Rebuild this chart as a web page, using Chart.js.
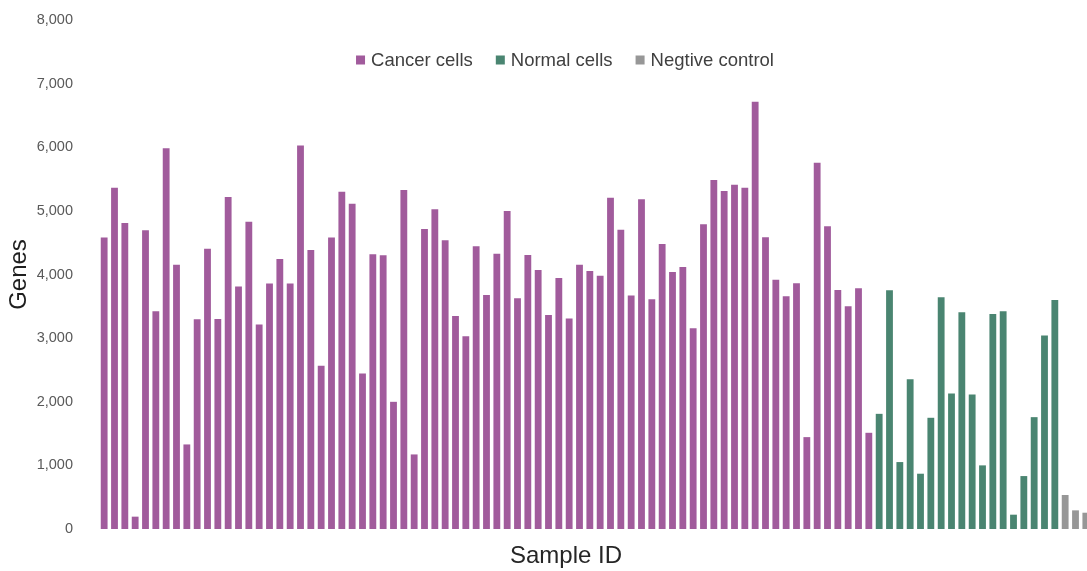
<!DOCTYPE html>
<html>
<head>
<meta charset="utf-8">
<title>Genes per sample</title>
<script src="https://cdn.jsdelivr.net/npm/chart.js@4/dist/chart.umd.min.js"></script>
<style>
  html, body { margin: 0; padding: 0; background: #ffffff; overflow: hidden; }
  #wrap { position: relative; width: 1095px; height: 571px; }
</style>
</head>
<body>
<div id="wrap"><canvas id="chart"></canvas></div>
<script>
// Genes detected per sample, grouped by sample type
const cancerCells = [
  4580, 5365, 4810, 194, 4694, 3422, 5986, 4155, 1329, 3297,
  4406, 3302, 5217, 3810, 4830, 3213, 3857, 4244, 3857, 6028,
  4385, 2564, 4580, 5301, 5113, 2444, 4317, 4301, 1999, 5327,
  1172, 4715, 5024, 4537, 3349, 3030, 4443, 3679, 4328, 4997,
  3626, 4307, 4071, 3365, 3945, 3307, 4155, 4055, 3982, 5207,
  4704, 3668, 5181, 3611, 4479, 4040, 4118, 3155, 4788, 5484,
  5311, 5411, 5364, 6714, 4584, 3919, 3658, 3862, 1444, 5756,
  4757, 3757, 3501, 3783, 1512
];
const normalCells = [
  1810, 3752, 1052, 2355, 869, 1748, 3642, 2130, 3407, 2114,
  1000, 3380, 3422, 225, 832, 1758, 3040, 3600
];
const negativeControl = [534, 293, 256];

const seriesNames = ['Cancer cells', 'Normal cells', 'Negtive control'];
const seriesColors = ['#a15b9c', '#4a8571', '#979797'];
const yTicks = [0, 1000, 2000, 3000, 4000, 5000, 6000, 7000, 8000];
const xTitle = 'Sample ID';

const total = cancerCells.length + normalCells.length + negativeControl.length;
const sampleIds = Array.from({ length: total }, (_, i) => 'S' + (i + 1));

// Each series occupies its own run of samples; the rest are empty
function place(values, start) {
  const out = new Array(total).fill(null);
  values.forEach((v, i) => { out[start + i] = v; });
  return out;
}

const groups = [cancerCells, normalCells, negativeControl];
let offset = 0;
const datasets = groups.map((values, k) => {
  const ds = {
    label: seriesNames[k],
    data: place(values, offset),
    backgroundColor: seriesColors[k],
    borderWidth: 0,
    grouped: false,
    barPercentage: 0.66,
    categoryPercentage: 1.0
  };
  offset += values.length;
  return ds;
});

// Legend drawn inside the plot near the top, plus the sample axis caption
const overlayText = {
  id: 'overlayText',
  afterDraw(chart, args, opts) {
    const ctx = chart.ctx;
    ctx.save();
    ctx.textBaseline = 'middle';

    ctx.font = opts.legendFont;
    const box = opts.boxSize, gapText = opts.gapText, gapItem = opts.gapItem;
    const items = chart.data.datasets.map(d => ({
      text: d.label, color: d.backgroundColor, w: ctx.measureText(d.label).width
    }));
    const width = items.reduce((s, it) => s + box + gapText + it.w, 0) + gapItem * (items.length - 1);
    let x = opts.legendX - width / 2;
    const y = opts.legendY;
    items.forEach(it => {
      ctx.fillStyle = it.color;
      ctx.fillRect(x, y - box / 2, box, box);
      ctx.fillStyle = opts.legendColor;
      ctx.fillText(it.text, x + box + gapText, y + 0.5);
      x += box + gapText + it.w + gapItem;
    });

    ctx.font = opts.captionFont;
    ctx.fillStyle = opts.captionColor;
    ctx.textAlign = 'center';
    ctx.fillText(opts.caption, opts.captionX, opts.captionY);
    ctx.restore();
  }
};

new Chart(document.getElementById('chart'), {
  type: 'bar',
  data: { labels: sampleIds, datasets },
  plugins: [overlayText],
  options: {
    responsive: true,
    maintainAspectRatio: false,
    animation: false,
    layout: { padding: { left: 2, right: 4, top: 20, bottom: 42 } },
    plugins: {
      legend: { display: false },
      tooltip: { enabled: false },
      overlayText: {
        legendFont: '18.5px "Liberation Sans", Arial, sans-serif',
        legendColor: '#404040',
        boxSize: 9,
        gapText: 6,
        gapItem: 23,
        legendX: 565,
        legendY: 60,
        caption: xTitle,
        captionFont: '24px "Liberation Sans", Arial, sans-serif',
        captionColor: '#262626',
        captionX: 566,
        captionY: 556
      }
    },
    scales: {
      x: {
        grid: { display: false, drawTicks: false },
        border: { display: false },
        ticks: { display: false }
      },
      y: {
        min: 0,
        max: 8000,
        afterBuildTicks(scale) { scale.ticks = yTicks.map(v => ({ value: v })); },
        afterFit(scale) { scale.width = 97; },
        grid: { display: false, drawTicks: true, tickLength: 23 },
        border: { display: false },
        ticks: {
          padding: 3,
          color: '#595959',
          font: { family: '"Liberation Sans", Arial, sans-serif', size: 14.5 },
          callback: v => v.toLocaleString('en-US')
        },
        title: {
          display: true,
          text: 'Genes',
          color: '#1f1f1f',
          font: { family: '"Liberation Sans", Arial, sans-serif', size: 24 },
          padding: { top: 3, bottom: 0 }
        }
      }
    }
  }
});
</script>
</body>
</html>
